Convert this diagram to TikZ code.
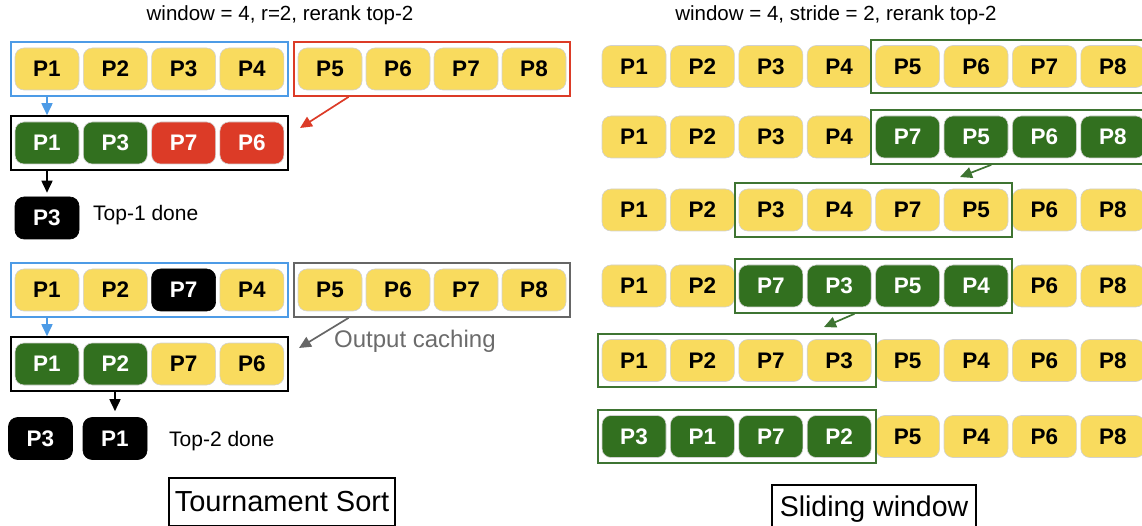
\documentclass[tikz,border=0pt]{standalone}
\usepackage{fontspec}
\setmainfont{Liberation Sans}
\usetikzlibrary{fit,arrows.meta}
\definecolor{pyellow}{HTML}{F9DB5E}
\definecolor{pgreen}{HTML}{32701F}
\definecolor{pred}{HTML}{DC3B27}
\definecolor{pblue}{HTML}{4D9BE6}
\definecolor{fgreen}{HTML}{3E7432}
\definecolor{cachegray}{HTML}{6B6B6B}

\begin{document}
\begin{tikzpicture}[x=1pt,y=-1pt,
  pbox/.style={rounded corners=9pt,minimum width=64pt,minimum height=42pt,inner sep=0pt,draw=black!18,line width=0.6pt,font=\fontsize{22.5}{22}\selectfont\bfseries},
  yel/.style={pbox,fill=pyellow},
  grn/.style={pbox,fill=pgreen,text=white},
  rd/.style={pbox,fill=pred,text=white},
  blk/.style={pbox,fill=black,draw=black,text=white},
  frame/.style={draw,line width=2pt,inner xsep=4pt,inner ysep=5.5pt},
  arr/.style={-{Triangle[length=12pt,width=11pt]},line width=1.7pt},
  lbl/.style={inner sep=0pt,font=\fontsize{20.5}{24}\selectfont}]
\useasboundingbox (0,0) rectangle (1142,526);

\node[lbl] (tl) at (280,15) {window = 4, r=2, rerank top-2};
\foreach \r/\yy/\lst in {a/69/{P1/yel,P2/yel,P3/yel,P4/yel,P5/yel,P6/yel,P7/yel,P8/yel},
                        b/143/{P1/grn,P3/grn,P7/rd,P6/rd},
                        c/290/{P1/yel,P2/yel,P7/blk,P4/yel,P5/yel,P6/yel,P7/yel,P8/yel},
                        d/364/{P1/grn,P2/grn,P7/yel,P6/yel}}
  \foreach \lab/\st [count=\i] in \lst {
    \pgfmathsetmacro\xx{\i<5 ? 47+68.3*(\i-1) : 330+68*(\i-5)}
    \node[\st] (\r\i) at (\xx,\yy) {\lab};
  }
\node[frame,draw=pblue,fit=(a1)(a4)] (fa) {};
\node[frame,draw=pred,fit=(a5)(a8)] (fr) {};
\node[frame,draw=black,fit=(b1)(b4)] (fb) {};
\node[frame,draw=pblue,fit=(c1)(c4)] (fc) {};
\node[frame,draw=black!60,fit=(c5)(c8)] (fg) {};
\node[frame,draw=black,fit=(d1)(d4)] (fd) {};

\node[blk] (t1) at (47,218) {P3};
\node[lbl,anchor=west,font=\fontsize{21}{24}\selectfont] (done1) at (93,215) {Top-1 done};
\node[blk] (u1) at (40.5,438.5) {P3};
\node[blk] (u2) at (115,438.5) {P1};
\node[lbl,anchor=west,font=\fontsize{21}{24}\selectfont] (done2) at (169,441) {Top-2 done};
\node[lbl,anchor=west,text=cachegray,font=\fontsize{24}{28}\selectfont] (cache) at (334,341) {Output caching};

\coordinate (redtip) at (300,128);
\coordinate (graytip) at (299,348);
\draw[arr,pblue] (fa.south -| b1) -- (fb.north -| b1);
\draw[arr,pred] ([xshift=56pt]fr.south west) -- (redtip);
\draw[arr] (fb.south -| t1) -- ([yshift=4pt]t1.north);
\draw[arr,pblue] (fc.south -| d1) -- (fd.north -| d1);
\draw[arr,black!60] ([xshift=56pt]fg.south west) -- (graytip);
\draw[arr] (fd.south -| u2) -- ([yshift=6pt]u2.north);

\node[draw,line width=1.5pt,minimum width=226pt,minimum height=48pt,font=\fontsize{29}{29}\selectfont] (ts) at (282,502) {Tournament Sort};

\node[lbl] (tr) at (836,15) {window = 4, stride = 2, rerank top-2};
\foreach \r/\yy/\lst in {1/66.5/{P1/yel,P2/yel,P3/yel,P4/yel,P5/yel,P6/yel,P7/yel,P8/yel},
                        2/137/{P1/yel,P2/yel,P3/yel,P4/yel,P7/grn,P5/grn,P6/grn,P8/grn},
                        3/210/{P1/yel,P2/yel,P3/yel,P4/yel,P7/yel,P5/yel,P6/yel,P8/yel},
                        4/286/{P1/yel,P2/yel,P7/grn,P3/grn,P5/grn,P4/grn,P6/yel,P8/yel},
                        5/360.5/{P1/yel,P2/yel,P7/yel,P3/yel,P5/yel,P4/yel,P6/yel,P8/yel},
                        6/436.5/{P3/grn,P1/grn,P7/grn,P2/grn,P5/yel,P4/yel,P6/yel,P8/yel}}
  \foreach \lab/\st [count=\i] in \lst
    \node[\st] (w\r-\i) at ({634+68.4*(\i-1)},\yy) {\lab};
\node[frame,draw=fgreen,fit=(w1-5)(w1-8)] (f1) {};
\node[frame,draw=fgreen,fit=(w2-5)(w2-8)] (f2) {};
\node[frame,draw=fgreen,fit=(w3-3)(w3-6)] (f3) {};
\node[frame,draw=fgreen,fit=(w4-3)(w4-6)] (f4) {};
\node[frame,draw=fgreen,fit=(w5-1)(w5-4)] (f5) {};
\node[frame,draw=fgreen,fit=(w6-1)(w6-4)] (f6) {};

\coordinate (tipa) at (960,177);
\coordinate (tipb) at (824,327);
\draw[arr,fgreen] ([xshift=121pt]f2.south west) -- (tipa);
\draw[arr,fgreen] ([xshift=121pt]f4.south west) -- (tipb);

\node[draw,line width=1.5pt,minimum width=204pt,minimum height=48pt,font=\fontsize{28.5}{29}\selectfont] (sw) at (874,509) {Sliding window};
\end{tikzpicture}
\end{document}
